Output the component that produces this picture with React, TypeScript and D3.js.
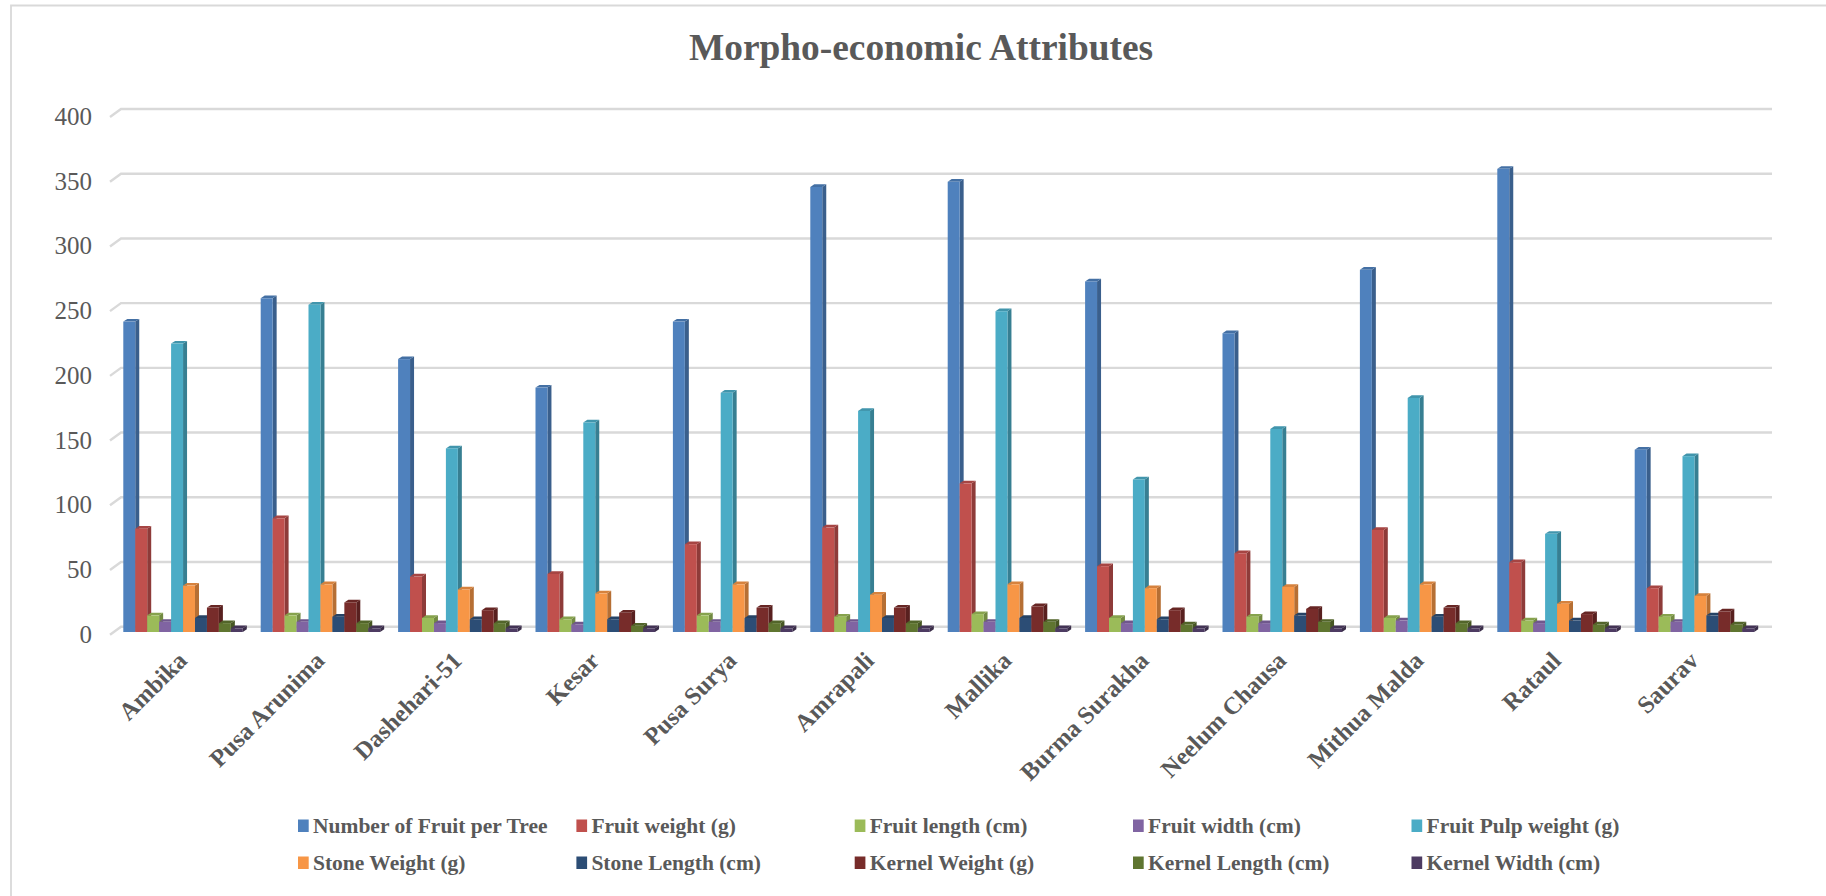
import React from "react";
import * as d3 from "d3";

const categories = ["Ambika","Pusa Arunima","Dashehari-51","Kesar","Pusa Surya","Amrapali","Mallika","Burma Surakha","Neelum Chausa","Mithua Malda","Rataul","Saurav"];
const seriesNames = ["Number of Fruit per Tree","Fruit weight (g)","Fruit length (cm)","Fruit width (cm)","Fruit Pulp weight (g)","Stone Weight (g)","Stone Length (cm)","Kernel Weight (g)","Kernel Length (cm)","Kernel Width (cm)"];
const colors = ["#4F81BD","#C0504D","#9BBB59","#8064A2","#4BACC6","#F79646","#2C4D75","#772C2A","#5F7530","#4D3B62"];
const fruitPerTree = [240,258,211,189,240,344,348,271,231,280,358,141];
const fruitWeight = [80,88,43,45,68,81,115,51,61,79,54,34];
const fruitLength = [13,13,11,10,13,12,14,11,12,11,9,12];
const fruitWidth = [8,8,7,6,8,8,8,7,7,9,7,8];
const pulpWeight = [223,253,142,162,185,171,248,118,157,181,76,136];
const stoneWeight = [36,37,33,30,37,29,37,34,35,37,22,28];
const stoneLength = [11,12,10,10,11,11,11,10,13,12,9,13];
const kernelWeight = [19,23,17,15,19,19,20,17,18,19,14,16];
const kernelLength = [7,7,7,5,7,7,8,6,8,7,6,6];
const kernelWidth = [3,3,3,3,3,3,3,3,3,3,3,3];
const allSeries = [fruitPerTree,fruitWeight,fruitLength,fruitWidth,pulpWeight,stoneWeight,stoneLength,kernelWeight,kernelLength,kernelWidth];
const ticks = [0,50,100,150,200,250,300,350,400];

const y = d3.scaleLinear().domain([0,400]).range([626.7,109]);
const BW = 11.95, DX = 4, DY = 2.7, FRONT = 5.5, STEP = 137.4;
const serif = "'Liberation Serif', serif";
const text = "#595959";
const legendX = [298,576.4,854.7,1133,1411.5];

export default function App() {
  return (
    <svg width={1826} height={896} style={{position:"absolute",left:0,top:0}}>
      <rect width={1826} height={896} fill="#fff"/>
      <path d="M11,896V5.5H1826" fill="none" stroke="#d9d9d9" strokeWidth={1.8}/>
      <text x={921} y={60} textAnchor="middle" fontFamily={serif} fontWeight="bold" fontSize={37.4} fill={text}>Morpho-economic Attributes</text>
      {ticks.map(t => (
        <g key={t}>
          <path d={`M110,${y(t)+8}L121,${y(t)}H1772`} fill="none" stroke="#d9d9d9" strokeWidth={2.4}/>
          <text x={92} y={y(t)+16} textAnchor="end" fontFamily={serif} fontSize={25} fill={text}>{t}</text>
        </g>
      ))}
      {categories.map((c,i) => {
        const gx = 123.3 + i*STEP;
        return (
          <g key={c}>
            {allSeries.map((s,k) => {
              const x0 = gx + k*BW, x1 = x0+BW;
              const base = 632, top = y(s[i]) + FRONT;
              const col = d3.color(colors[k])!;
              return (
                <g key={k}>
                  <path d={`M${x1},${base}V${top}L${x1+DX},${top-DY}V${base-DY}Z`} fill={col.darker(0.85).toString()}/>
                  <path d={`M${x0},${top}L${x0+DX},${top-DY}H${x1+DX}L${x1},${top}Z`} fill={col.darker(0.4).toString()}/>
                  <rect x={x0} y={top} width={BW} height={base-top} fill={colors[k]}/>
                </g>
              );
            })}
            <text transform={`translate(${gx+53},${650}) rotate(-45)`} textAnchor="end" dy="0.7em" fontFamily={serif} fontWeight="bold" fontSize={24.5} fill={text}>{c}</text>
          </g>
        );
      })}
      {seriesNames.map((n,k) => {
        const row = k<5?0:1, col = k%5;
        const yy = row===0?826:863;
        return (
          <g key={n}>
            <rect x={legendX[col]} y={yy-6.5} width={10.7} height={12.5} fill={colors[k]}/>
            <text x={legendX[col]+15} y={yy+6.5} fontFamily={serif} fontWeight="bold" fontSize={21.5} fill={text}>{n}</text>
          </g>
        );
      })}
    </svg>
  );
}
